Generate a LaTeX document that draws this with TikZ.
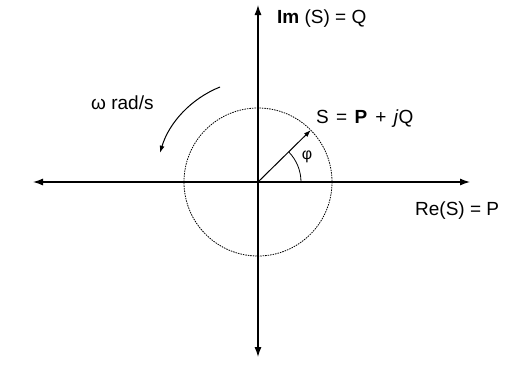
\documentclass[tikz,border=0pt]{standalone}
\usepackage{fontspec}
\setmainfont{Liberation Sans}
\usetikzlibrary{arrows.meta,calc}
\begin{document}
\begin{tikzpicture}[x=1pt,y=-1pt,
  axis/.style={line width=1.2pt,{Latex[length=10pt,width=7pt]}-{Latex[length=10pt,width=7pt]}},
  lbl/.style={font=\fontsize{19}{21}\selectfont,inner sep=0pt,anchor=west},
  thinarrow/.style={line width=1pt,-{Latex[length=7pt,width=5pt]}}]
\useasboundingbox (0,0) rectangle (512,370);
\fill[white] (0,0) rectangle (512,370);
\coordinate (O) at (258,182);
\coordinate (L) at (33,182);
\coordinate (R) at (470,182);
\coordinate (T) at (258,5);
\coordinate (B) at (258,357);
\draw[axis] (L) -- (R);
\draw[axis] (B) -- (T);
\draw[line width=0.8pt,dash pattern=on 1.5pt off 1pt] (O) circle[radius=74];
\draw[thinarrow] (O) -- ++(-44.5:74) coordinate (S);
\draw[line width=0.8pt] ($(O)+(43,0)$) arc[start angle=0,end angle=-44.5,radius=43];
\draw[thinarrow] ($(O)+(-38,-95)$) arc[start angle=-111.8,end angle=-163.5,radius=102];
\node[lbl] (im) at (277,19) {\textbf{Im} (S) = Q};
\node[lbl] (s) at (316,119) {S\hspace{2pt} = \hspace{2pt}\textbf{P}\hspace{3pt} + \hspace{2pt}\textit{j}Q};
\node[lbl] (w) at (91,103) {ω rad/s};
\node[font=\fontsize{16}{18}\selectfont,inner sep=0pt] (phi) at (307,157) {φ};
\node[lbl] (re) at (415,211) {Re(S) = P};
\end{tikzpicture}
\end{document}
